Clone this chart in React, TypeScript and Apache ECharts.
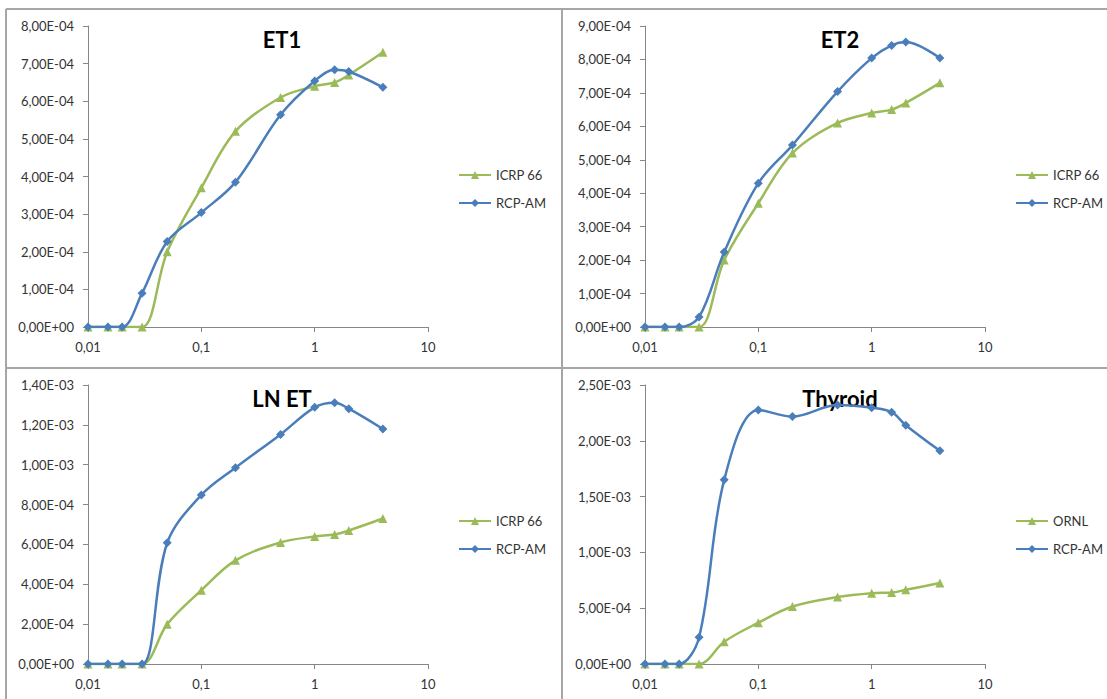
import React, { useEffect, useRef } from "react";
import * as echarts from "echarts";

// Dose points (x) shared by every panel
const doses = [0.01, 0.015, 0.02, 0.03, 0.05, 0.1, 0.2, 0.5, 1, 1.5, 2, 4];

// Reference curves
const icrp66 = [0, 0, 0, 0, 2.0e-4, 3.7e-4, 5.2e-4, 6.1e-4, 6.4e-4, 6.5e-4, 6.7e-4, 7.3e-4];
const ornl = [0, 0, 0, 0, 2.0e-4, 3.7e-4, 5.15e-4, 6.0e-4, 6.35e-4, 6.4e-4, 6.65e-4, 7.25e-4];

// RCP-AM curves per region
const et1RcpAm = [0, 0, 0, 0.9e-4, 2.27e-4, 3.04e-4, 3.85e-4, 5.64e-4, 6.54e-4, 6.84e-4, 6.79e-4, 6.37e-4];
const et2RcpAm = [0, 0, 0, 0.3e-4, 2.24e-4, 4.3e-4, 5.44e-4, 7.04e-4, 8.04e-4, 8.42e-4, 8.52e-4, 8.04e-4];
const lnEtRcpAm = [0, 0, 0, 0, 6.08e-4, 8.48e-4, 9.85e-4, 1.152e-3, 1.288e-3, 1.311e-3, 1.281e-3, 1.179e-3];
const thyroidRcpAm = [0, 0, 0, 2.4e-4, 1.65e-3, 2.277e-3, 2.217e-3, 2.32e-3, 2.297e-3, 2.256e-3, 2.14e-3, 1.91e-3];

// Panel titles, legend names and axis ranges
const titles = ["ET1", "ET2", "LN ET", "Thyroid"];
const refNames = ["ICRP 66", "ICRP 66", "ICRP 66", "ORNL"];
const refSeries = [icrp66, icrp66, icrp66, ornl];
const rcpSeries = [et1RcpAm, et2RcpAm, lnEtRcpAm, thyroidRcpAm];
const yMaxes = [8e-4, 9e-4, 1.4e-3, 2.5e-3];
const ySteps = [1e-4, 1e-4, 2e-4, 5e-4];
const xTicks = [0.01, 0.1, 1, 10];

// Layout of the four panels
const layout = [
  { grid: { left: 88, top: 26, width: 340, height: 301 }, title: [282, 39], legend: [453, 163] },
  { grid: { left: 645, top: 26, width: 340, height: 301 }, title: [840, 39], legend: [1010, 163] },
  { grid: { left: 88, top: 385, width: 340, height: 279 }, title: [282, 398], legend: [453, 509] },
  { grid: { left: 645, top: 385, width: 340, height: 279 }, title: [840, 398], legend: [1010, 509] },
];

const GREEN = "#9BBB59";
const BLUE = "#4A7EBB";
const AXIS = "#868686";
const TEXT = "#333333";
const FRAME = "#a6a6a6";
const FONT = "Lato, 'Open Sans', sans-serif";

function sciLabel(v: number): string {
  if (v === 0) return "0,00E+00";
  const [m, e] = v.toExponential(2).split("e");
  const n = parseInt(e, 10);
  return m.replace(".", ",") + "E" + (n < 0 ? "-" : "+") + String(Math.abs(n)).padStart(2, "0");
}

function doseLabel(v: number): string {
  return String(Number(v.toPrecision(4))).replace(".", ",");
}

export default function App() {
  const ref = useRef<HTMLDivElement>(null);

  useEffect(() => {
    document.body.style.margin = "0";
    if (!ref.current) return;
    const chart = echarts.init(ref.current, undefined, { renderer: "svg" });

    const grids: any[] = [];
    const xAxes: any[] = [];
    const yAxes: any[] = [];
    const legends: any[] = [];
    const series: any[] = [];
    const graphics: any[] = [];

    titles.forEach((t, i) => {
      const L = layout[i];
      grids.push({ ...L.grid, containLabel: false });
      xAxes.push({
        type: "log",
        logBase: 10,
        gridIndex: i,
        min: xTicks[0],
        max: xTicks[xTicks.length - 1],
        axisLine: { show: true, lineStyle: { color: AXIS, width: 1 } },
        axisTick: { show: true, inside: false, length: 5, lineStyle: { color: AXIS } },
        minorTick: { show: false },
        splitLine: { show: false },
        axisLabel: {
          margin: 13,
          color: TEXT,
          fontFamily: FONT,
          fontSize: 13,
          formatter: (v: number) => doseLabel(v),
        },
      });
      yAxes.push({
        type: "value",
        gridIndex: i,
        min: 0,
        max: yMaxes[i],
        interval: ySteps[i],
        axisLine: { show: true, lineStyle: { color: AXIS, width: 1 } },
        axisTick: { show: true, inside: false, length: 5, lineStyle: { color: AXIS } },
        splitLine: { show: false },
        axisLabel: {
          margin: 14,
          color: TEXT,
          fontFamily: FONT,
          fontSize: 13,
          showMinLabel: true,
          showMaxLabel: true,
          formatter: (v: number) => sciLabel(v),
        },
      });
      legends.push({
        orient: "vertical",
        left: L.legend[0],
        top: L.legend[1],
        itemWidth: 32,
        itemHeight: 10,
        itemGap: 14,
        data: [refNames[i], "RCP-AM"],
        selectedMode: false,
        textStyle: { color: TEXT, fontFamily: FONT, fontSize: 13, lineHeight: 14 },
      });
      series.push({
        type: "line",
        name: refNames[i],
        xAxisIndex: i,
        yAxisIndex: i,
        data: doses.map((d, k) => [d, refSeries[i][k]]),
        smooth: 0.35,
        symbol: "triangle",
        symbolSize: 9,
        lineStyle: { color: GREEN, width: 2.5 },
        itemStyle: { color: GREEN },
        z: 3,
      });
      series.push({
        type: "line",
        name: "RCP-AM",
        xAxisIndex: i,
        yAxisIndex: i,
        data: doses.map((d, k) => [d, rcpSeries[i][k]]),
        smooth: 0.35,
        symbol: "diamond",
        symbolSize: 9,
        lineStyle: { color: BLUE, width: 2.5 },
        itemStyle: { color: BLUE },
        z: 4,
      });
      graphics.push({
        type: "text",
        x: L.title[0],
        y: L.title[1],
        z: 0,
        style: {
          text: t,
          fill: "#000",
          font: `bold 22px ${FONT}`,
          textAlign: "center",
          textVerticalAlign: "middle",
        },
      });
    });

    // Frame and dividers between the panels
    const frameLines = [
      [6, 9, 1107, 9],
      [6, 9, 6, 699],
      [562, 9, 562, 699],
      [6, 368, 1107, 368],
    ];
    frameLines.forEach(([x1, y1, x2, y2]) => {
      graphics.push({
        type: "line",
        z: 0,
        shape: { x1, y1, x2, y2 },
        style: { stroke: FRAME, lineWidth: 2 },
      });
    });

    chart.setOption({
      animation: false,
      backgroundColor: "#ffffff",
      grid: grids,
      xAxis: xAxes,
      yAxis: yAxes,
      legend: legends,
      series,
      graphic: graphics,
      tooltip: { show: false },
    });

    return () => chart.dispose();
  }, []);

  return (
    <div ref={ref} style={{ width: 1107, height: 699, background: "#fff" }} />
  );
}
